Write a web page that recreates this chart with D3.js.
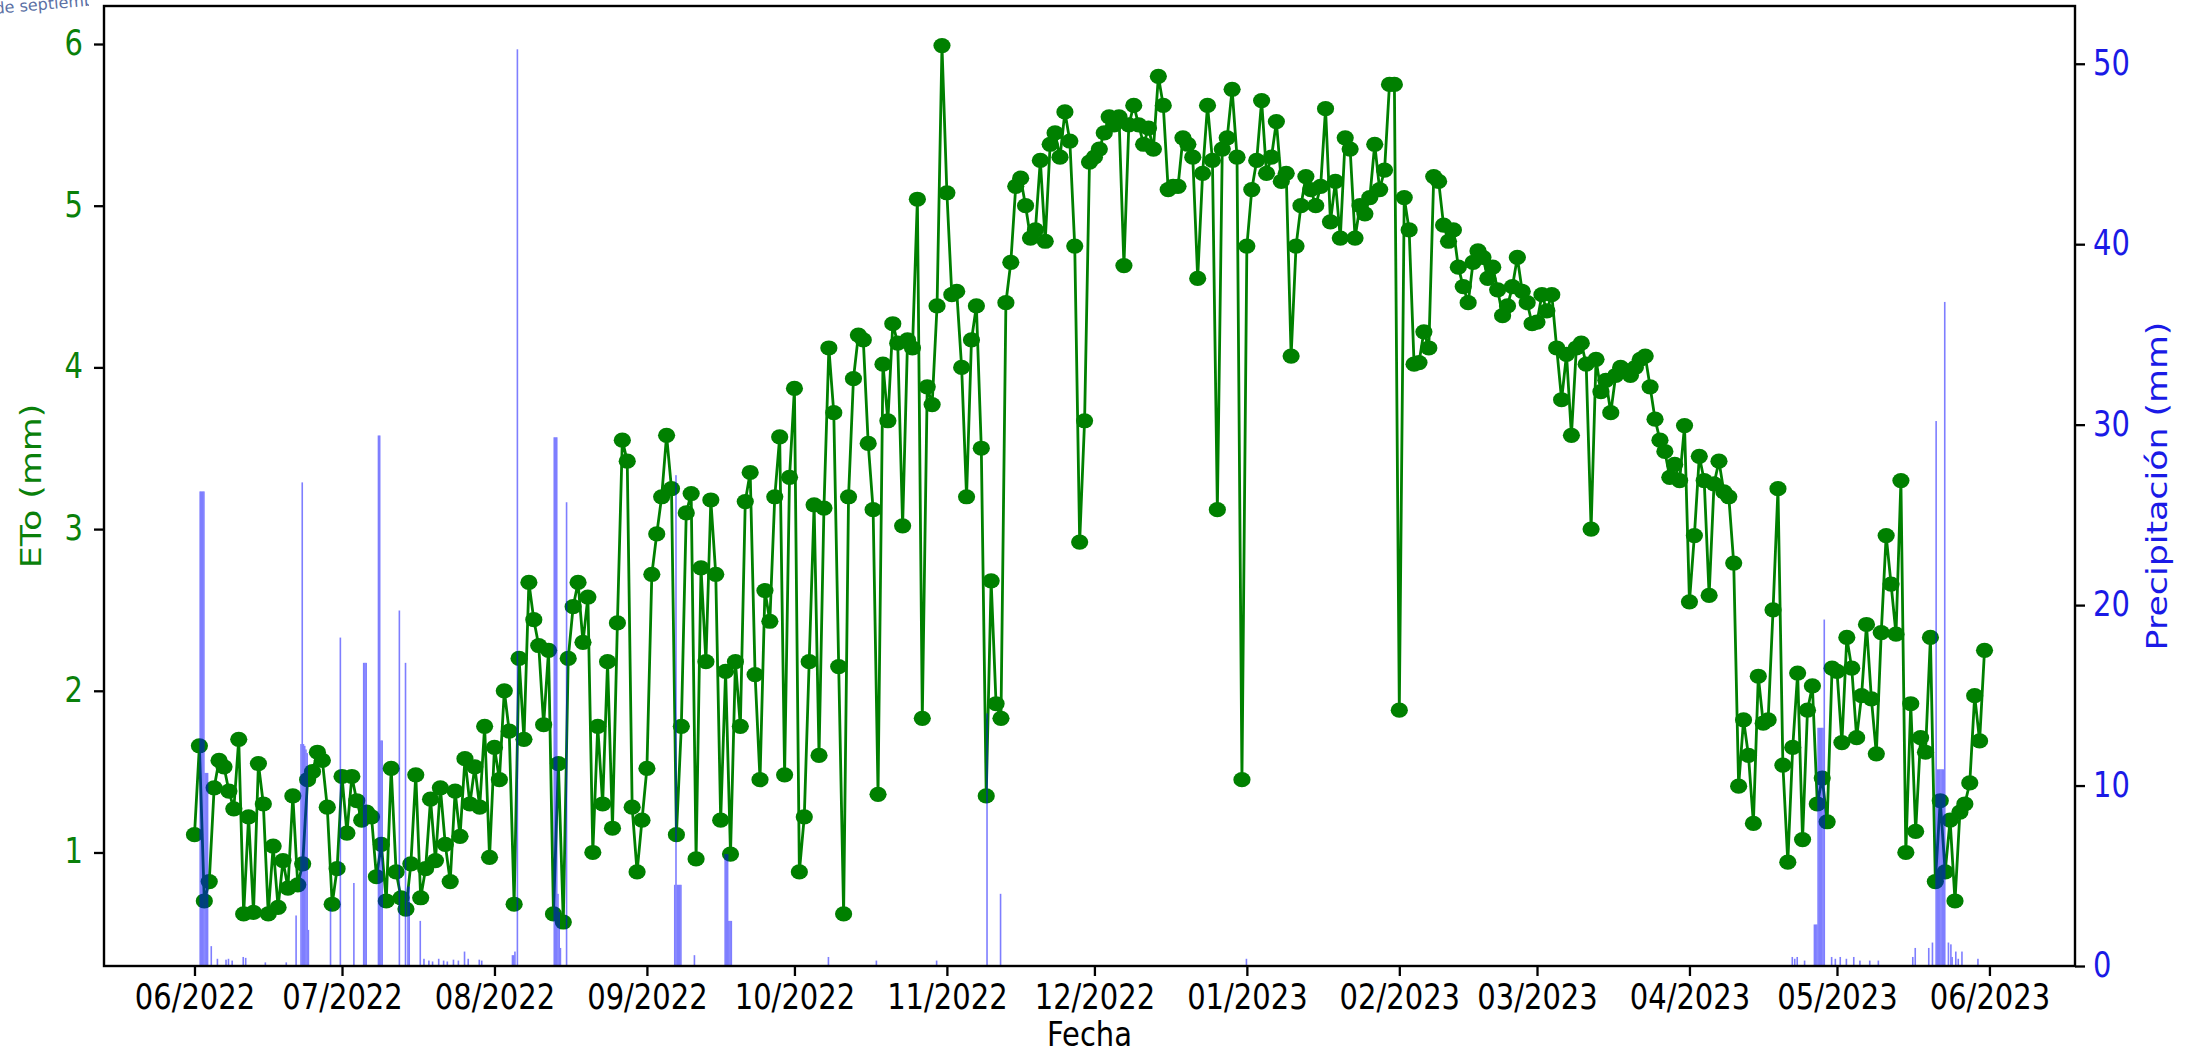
<!DOCTYPE html>
<html>
<head>
<meta charset="utf-8">
<script src="https://cdn.jsdelivr.net/npm/d3@7"></script>
<style>
  html, body { margin: 0; padding: 0; background: #fff; }
  svg { display: block; }
  text { font-family: "DejaVu Sans", "Liberation Sans", sans-serif; }
</style>
</head>
<body>
<svg id="chart" width="2198" height="1057"></svg>
<script>
// Daily reference evapotranspiration (ETo, mm), one value per day starting 2022-06-01
const etoStart = "2022-06-01";
const etoJun2022 = [1.11, 1.66, 0.70, 0.82, 1.40, 1.57, 1.53, 1.38, 1.27, 1.70, 0.62, 1.22, 0.63, 1.55, 1.30, 0.62, 1.04, 0.66, 0.95, 0.78, 1.35, 0.80, 0.93, 1.45, 1.50, 1.62, 1.57, 1.28, 0.68, 0.90];
const etoJul2022 = [1.47, 1.12, 1.47, 1.32, 1.20, 1.25, 1.22, 0.85, 1.05, 0.70, 1.52, 0.88, 0.72, 0.65, 0.93, 1.48, 0.72, 0.90, 1.33, 0.95, 1.40, 1.05, 0.82, 1.38, 1.10, 1.58, 1.30, 1.53, 1.28, 1.78, 0.97];
const etoAug2022 = [1.65, 1.45, 2.00, 1.75, 0.68, 2.20, 1.70, 2.67, 2.44, 2.28, 1.79, 2.25, 0.62, 1.55, 0.57, 2.20, 2.52, 2.67, 2.30, 2.58, 1.00, 1.78, 1.30, 2.18, 1.15, 2.42, 3.55, 3.42, 1.28, 0.88, 1.20];
const etoSep2022 = [1.52, 2.72, 2.97, 3.20, 3.58, 3.25, 1.11, 1.78, 3.10, 3.22, 0.96, 2.76, 2.18, 3.18, 2.72, 1.20, 2.12, 0.99, 2.18, 1.78, 3.17, 3.35, 2.10, 1.45, 2.62, 2.43, 3.20, 3.57, 1.48, 3.32];
const etoOct2022 = [3.87, 0.88, 1.22, 2.18, 3.15, 1.60, 3.13, 4.12, 3.72, 2.15, 0.62, 3.20, 3.93, 4.20, 4.17, 3.53, 3.12, 1.36, 4.02, 3.67, 4.27, 4.15, 3.02, 4.17, 4.12, 5.04, 1.83, 3.88, 3.77, 4.38, 5.99];
const etoNov2022 = [5.08, 4.45, 4.47, 4.00, 3.20, 4.17, 4.38, 3.50, 1.35, 2.68, 1.92, 1.83, 4.40, 4.65, 5.12, 5.17, 5.00, 4.80, 4.85, 5.28, 4.78, 5.38, 5.45, 5.30, 5.58, 5.40, 4.75, 2.92, 3.67, 5.27];
const etoDec2022 = [5.30, 5.35, 5.45, 5.55, 5.50, 5.55, 4.63, 5.50, 5.62, 5.50, 5.38, 5.48, 5.35, 5.80, 5.62, 5.10, 5.12, 5.12, 5.42, 5.38, 5.30, 4.55, 5.20, 5.62, 5.28, 3.12, 5.35, 5.42, 5.72, 5.30, 1.45];
const etoJan2023 = [4.75, 5.10, 5.28, 5.65, 5.20, 5.30, 5.52, 5.15, 5.20, 4.07, 4.75, 5.00, 5.18, 5.10, 5.00, 5.12, 5.60, 4.90, 5.15, 4.80, 5.42, 5.35, 4.80, 5.00, 4.95, 5.05, 5.38, 5.10, 5.22, 5.75, 5.75];
const etoFeb2023 = [1.88, 5.05, 4.85, 4.02, 4.03, 4.22, 4.12, 5.18, 5.15, 4.88, 4.78, 4.85, 4.62, 4.50, 4.40, 4.65, 4.72, 4.68, 4.55, 4.62, 4.48, 4.32, 4.38, 4.50, 4.68, 4.47, 4.40, 4.27];
const etoMar2023 = [4.28, 4.45, 4.35, 4.45, 4.12, 3.80, 4.08, 3.58, 4.12, 4.15, 4.02, 3.00, 4.05, 3.85, 3.92, 3.72, 3.95, 4.00, 3.98, 3.95, 4.00, 4.05, 4.07, 3.88, 3.68, 3.55, 3.48, 3.32, 3.40, 3.30, 3.64];
const etoApr2023 = [2.55, 2.96, 3.45, 3.30, 2.59, 3.28, 3.42, 3.23, 3.20, 2.79, 1.41, 1.82, 1.60, 1.18, 2.09, 1.80, 1.82, 2.50, 3.25, 1.54, 0.94, 1.65, 2.11, 1.08, 1.88, 2.03, 1.30, 1.46, 1.19, 2.14];
const etoMay2023 = [2.12, 1.68, 2.33, 2.14, 1.71, 1.97, 2.41, 1.95, 1.61, 2.36, 2.96, 2.66, 2.35, 3.30, 1.00, 1.92, 1.13, 1.71, 1.62, 2.33, 0.82, 1.32, 0.88, 1.20, 0.70, 1.25, 1.30, 1.43, 1.97, 1.69, 2.25];

// Precipitation records (6-hour intervals, mm)
const precipitation = [
  ["2022-06-02 00:00", 26.3], ["2022-06-02 06:00", 26.3], ["2022-06-02 12:00", 26.3], ["2022-06-02 18:00", 26.3],
  ["2022-06-03 00:00", 10.7], ["2022-06-03 06:00", 10.7], ["2022-06-03 12:00", 10.7],
  ["2022-06-04 06:00", 1.1], ["2022-06-05 12:00", 0.4], ["2022-06-07 06:00", 0.35], ["2022-06-07 18:00", 0.4],
  ["2022-06-08 12:00", 0.3], ["2022-06-10 18:00", 0.5], ["2022-06-11 06:00", 0.45], ["2022-06-15 06:00", 0.2],
  ["2022-06-19 12:00", 0.2], ["2022-06-21 12:00", 2.8],
  ["2022-06-22 12:00", 12.3], ["2022-06-22 18:00", 26.8], ["2022-06-23 00:00", 12.3], ["2022-06-23 06:00", 12.2],
  ["2022-06-23 12:00", 12.0], ["2022-06-23 18:00", 11.8], ["2022-06-24 00:00", 2.0],
  ["2022-06-28 12:00", 3.2], ["2022-06-30 12:00", 18.2], ["2022-07-03 06:00", 4.6],
  ["2022-07-05 06:00", 16.8], ["2022-07-05 12:00", 16.8], ["2022-07-05 18:00", 16.8],
  ["2022-07-08 06:00", 29.4], ["2022-07-08 12:00", 29.4], ["2022-07-08 18:00", 12.5], ["2022-07-09 00:00", 12.5],
  ["2022-07-12 12:00", 19.7], ["2022-07-13 18:00", 16.8], ["2022-07-14 06:00", 4.4], ["2022-07-14 12:00", 4.4],
  ["2022-07-16 18:00", 2.5],
  ["2022-07-17 12:00", 0.4], ["2022-07-18 12:00", 0.3], ["2022-07-19 06:00", 0.25], ["2022-07-20 12:00", 0.4],
  ["2022-07-21 12:00", 0.3], ["2022-07-22 06:00", 0.25], ["2022-07-23 12:00", 0.35], ["2022-07-24 12:00", 0.3],
  ["2022-07-25 18:00", 0.8], ["2022-07-26 12:00", 0.4], ["2022-07-28 18:00", 0.35], ["2022-07-29 06:00", 0.3],
  ["2022-08-04 12:00", 0.6], ["2022-08-04 18:00", 0.6], ["2022-08-05 00:00", 0.8], ["2022-08-05 12:00", 50.8],
  ["2022-08-13 00:00", 29.3], ["2022-08-13 06:00", 29.3], ["2022-08-13 12:00", 29.3], ["2022-08-13 18:00", 4.0],
  ["2022-08-14 00:00", 3.0], ["2022-08-14 06:00", 1.0], ["2022-08-15 12:00", 25.7],
  ["2022-09-06 12:00", 4.5], ["2022-09-06 18:00", 27.2], ["2022-09-07 00:00", 4.5], ["2022-09-07 06:00", 4.5],
  ["2022-09-07 12:00", 4.5], ["2022-09-07 18:00", 4.5], ["2022-09-10 12:00", 0.6],
  ["2022-09-16 18:00", 6.2], ["2022-09-17 00:00", 6.2], ["2022-09-17 06:00", 6.2],
  ["2022-09-17 12:00", 2.5], ["2022-09-17 18:00", 2.5], ["2022-09-18 00:00", 2.5],
  ["2022-10-07 18:00", 0.5], ["2022-10-17 12:00", 0.3], ["2022-10-29 18:00", 0.3],
  ["2022-11-09 00:00", 14.0], ["2022-11-11 18:00", 4.0], ["2022-12-31 18:00", 0.4],
  ["2023-04-21 18:00", 0.5], ["2023-04-22 06:00", 0.4], ["2023-04-22 18:00", 0.5], ["2023-04-24 06:00", 0.3],
  ["2023-04-26 06:00", 2.3], ["2023-04-26 12:00", 2.3], ["2023-04-26 18:00", 2.3],
  ["2023-04-27 00:00", 13.2], ["2023-04-27 06:00", 13.2], ["2023-04-27 12:00", 13.2], ["2023-04-27 18:00", 13.2],
  ["2023-04-28 00:00", 13.2], ["2023-04-28 06:00", 19.2],
  ["2023-04-29 18:00", 0.5], ["2023-04-30 12:00", 0.4], ["2023-05-01 12:00", 0.5], ["2023-05-02 18:00", 0.4],
  ["2023-05-04 06:00", 0.5], ["2023-05-05 12:00", 0.3], ["2023-05-07 12:00", 0.3], ["2023-05-09 06:00", 0.3],
  ["2023-05-16 06:00", 0.5], ["2023-05-16 18:00", 1.0], ["2023-05-19 12:00", 1.0], ["2023-05-20 06:00", 1.3],
  ["2023-05-21 00:00", 30.2], ["2023-05-21 06:00", 10.9], ["2023-05-21 12:00", 10.9], ["2023-05-21 18:00", 10.9],
  ["2023-05-22 00:00", 10.9], ["2023-05-22 06:00", 10.9], ["2023-05-22 12:00", 10.9], ["2023-05-22 18:00", 36.8],
  ["2023-05-23 12:00", 1.3], ["2023-05-24 00:00", 1.2], ["2023-05-24 06:00", 0.5], ["2023-05-25 00:00", 0.8],
  ["2023-05-25 12:00", 0.4], ["2023-05-26 06:00", 0.8], ["2023-05-29 12:00", 0.4]
];

// Axis ticks
const monthTicks = ["2022-06-01", "2022-07-01", "2022-08-01", "2022-09-01", "2022-10-01", "2022-11-01",
  "2022-12-01", "2023-01-01", "2023-02-01", "2023-03-01", "2023-04-01", "2023-05-01", "2023-06-01"];
const etoTicks = [1, 2, 3, 4, 5, 6];
const precipTicks = [0, 10, 20, 30, 40, 50];

const labelX = "Fecha";
const labelEto = "ETo (mm)";
const labelPrecip = "Precipitación (mm)";

// ---------------------------------------------------------------------------
const parseDay = d3.utcParse("%Y-%m-%d");
const parseTime = d3.utcParse("%Y-%m-%d %H:%M");
const DAY = 864e5;

const etoValues = [].concat(etoJun2022, etoJul2022, etoAug2022, etoSep2022, etoOct2022, etoNov2022,
  etoDec2022, etoJan2023, etoFeb2023, etoMar2023, etoApr2023, etoMay2023);
const start = parseDay(etoStart);
const eto = etoValues.map((v, i) => ({ date: d3.utcDay.offset(start, i), value: v }));
const rain = precipitation.map(([t, v]) => ({ time: parseTime(t), value: v }));

const frame = { left: 104, right: 2075, top: 6, bottom: 966 };
const padDays = 18.4;
const fontSize = 29;
const textStretch = 1.2;

const x = d3.scaleUtc()
  .domain([new Date(+eto[0].date - padDays * DAY), new Date(+eto[eto.length - 1].date + padDays * DAY)])
  .range([frame.left, frame.right]);
const yEto = d3.scaleLinear().domain([0.298, 6.235]).range([frame.bottom, frame.top]);
const yRain = d3.scaleLinear().domain([0, 53.2]).range([frame.bottom, frame.top]);

const svg = d3.select("#chart");

// faint caption fragment in the upper-left corner
svg.append("defs").append("clipPath").attr("id", "corner")
  .append("rect").attr("x", 0).attr("y", 0).attr("width", 89).attr("height", 30);
svg.append("g").attr("clip-path", "url(#corner)")
  .append("text")
  .attr("transform", "translate(-5,14) rotate(-5)")
  .attr("font-size", 16)
  .attr("fill", "#5b70a4")
  .text("de septiembre");

// ETo line with circle markers
const plot = svg.append("g");
plot.append("path")
  .datum(eto)
  .attr("fill", "none")
  .attr("stroke", "#008000")
  .attr("stroke-width", 2.8)
  .attr("stroke-linejoin", "round")
  .attr("d", d3.line().x(d => x(d.date)).y(d => yEto(d.value)));
plot.selectAll("ellipse.pt")
  .data(eto)
  .join("ellipse")
  .attr("class", "pt")
  .attr("cx", d => x(d.date))
  .attr("cy", d => yEto(d.value))
  .attr("rx", 8.6)
  .attr("ry", 7.6)
  .attr("fill", "#008000");

// Precipitation bars (semi-transparent, drawn above the ETo series)
const barGroup = svg.append("g").attr("opacity", 0.5);
barGroup.selectAll("rect")
  .data(rain)
  .join("rect")
  .attr("x", d => x(d.time))
  .attr("width", d => Math.max(1.6, x(new Date(+d.time + DAY / 4)) - x(d.time)))
  .attr("y", d => yRain(d.value))
  .attr("height", d => yRain(0) - yRain(d.value))
  .attr("fill", "#0000ff");

// Axes
function styleTicks(g, color) {
  g.select(".domain").remove();
  g.selectAll(".tick line").attr("stroke", "#000").attr("stroke-width", 2.3);
  g.selectAll(".tick text")
    .attr("fill", color)
    .attr("font-size", fontSize)
    .attr("font-family", "DejaVu Sans, sans-serif");
}

const xAxis = d3.axisBottom(x)
  .tickValues(monthTicks.map(parseDay))
  .tickFormat(d3.utcFormat("%m/%Y"))
  .tickSize(10)
  .tickPadding(10);
const gx = svg.append("g").attr("transform", `translate(0,${frame.bottom})`).call(xAxis);
styleTicks(gx, "#000");
gx.selectAll(".tick text")
  .attr("y", 18.5 / textStretch)
  .attr("transform", `scale(1,${textStretch})`);

const yAxisLeft = d3.axisLeft(yEto).tickValues(etoTicks).tickFormat(d3.format("d")).tickSize(10).tickPadding(11);
const gyl = svg.append("g").attr("transform", `translate(${frame.left},0)`).call(yAxisLeft);
styleTicks(gyl, "#0a800a");
gyl.selectAll(".tick text").attr("transform", `scale(1,${textStretch})`).attr("dy", "0.3em");

const yAxisRight = d3.axisRight(yRain).tickValues(precipTicks).tickFormat(d3.format("d")).tickSize(10).tickPadding(8);
const gyr = svg.append("g").attr("transform", `translate(${frame.right},0)`).call(yAxisRight);
styleTicks(gyr, "#1a1ae6");
gyr.selectAll(".tick text").attr("transform", `scale(1,${textStretch})`).attr("dy", "0.3em");

// Frame
svg.append("rect")
  .attr("x", frame.left).attr("y", frame.top)
  .attr("width", frame.right - frame.left).attr("height", frame.bottom - frame.top)
  .attr("fill", "none").attr("stroke", "#000").attr("stroke-width", 2.4);

// Axis titles
const midY = (frame.top + frame.bottom) / 2;
svg.append("g").attr("transform", `translate(${(frame.left + frame.right) / 2},1046) scale(1,1.15)`)
  .append("text").attr("text-anchor", "middle").attr("font-size", fontSize).attr("fill", "#000").text(labelX);
svg.append("g").attr("transform", `translate(41,${midY}) rotate(-90) scale(${textStretch},1)`)
  .append("text").attr("text-anchor", "middle").attr("font-size", fontSize).attr("fill", "#0a800a").text(labelEto);
svg.append("g").attr("transform", `translate(2145,${midY}) rotate(-90) scale(${textStretch},1)`)
  .append("text").attr("text-anchor", "middle").attr("font-size", fontSize).attr("dy", "0.75em").attr("fill", "#1a1ae6").text(labelPrecip);
</script>
</body>
</html>
